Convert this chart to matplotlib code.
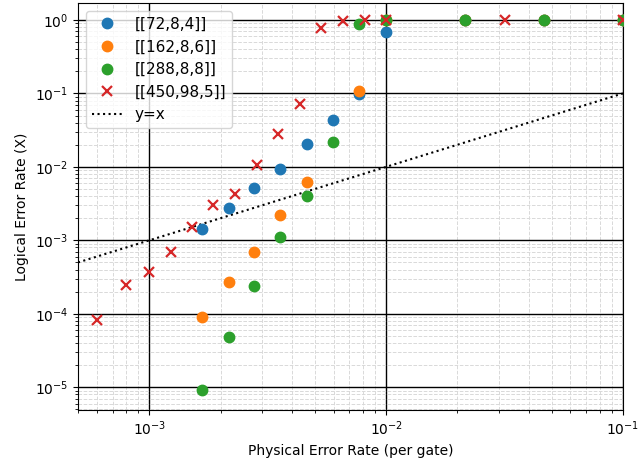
import numpy as np
import matplotlib
matplotlib.use("Agg")
import matplotlib.pyplot as plt

labels = ["[[72,8,4]]", "[[162,8,6]]", "[[288,8,8]]", "[[450,98,5]]"]

x_72 = [1.67e-3, 2.16e-3, 2.77e-3, 3.58e-3, 4.62e-3, 5.96e-3, 7.7e-3, 1e-2, 2.15e-2, 4.64e-2, 1e-1]
y_72 = [1.42e-3, 2.76e-3, 5.21e-3, 9.46e-3, 2.05e-2, 4.31e-2, 9.75e-2, 0.68, 1.0, 1.0, 1.0]

x_162 = [1.67e-3, 2.16e-3, 2.77e-3, 3.58e-3, 4.62e-3, 7.7e-3, 1e-2, 2.15e-2, 4.64e-2, 1e-1]
y_162 = [9.05e-5, 2.74e-4, 6.88e-4, 2.24e-3, 6.29e-3, 0.109, 1.0, 1.0, 1.0, 1.0]

x_288 = [1.67e-3, 2.16e-3, 2.77e-3, 3.58e-3, 4.62e-3, 5.96e-3, 7.7e-3, 1e-2, 2.15e-2, 4.64e-2, 1e-1]
y_288 = [9.27e-6, 4.89e-5, 2.39e-4, 1.12e-3, 4.02e-3, 2.16e-2, 0.88, 1.0, 1.0, 1.0, 1.0]

x_450 = [6.0e-4, 8.0e-4, 1.0e-3, 1.23e-3, 1.51e-3, 1.85e-3, 2.3e-3, 2.85e-3, 3.49e-3,
         4.33e-3, 5.32e-3, 6.57e-3, 8.13e-3, 1e-2, 3.16e-2, 1e-1]
y_450 = [8.24e-5, 2.47e-4, 3.68e-4, 6.88e-4, 1.54e-3, 3.03e-3, 4.28e-3, 1.06e-2, 2.81e-2,
         7.12e-2, 0.786, 0.97, 1.0, 1.0, 1.0, 1.0]

line_x = [5e-4, 1e-1]

fig = plt.figure(figsize=(6.39, 4.66), dpi=100)
ax = fig.add_axes([78/639, 1 - 410/466, (623 - 78)/639, (410 - 3)/466])

ax.plot(x_72, y_72, 'o', color='tab:blue', markersize=7.5, label=labels[0], zorder=3)
ax.plot(x_162, y_162, 'o', color='tab:orange', markersize=7.5, label=labels[1], zorder=3)
ax.plot(x_288, y_288, 'o', color='tab:green', markersize=7.5, label=labels[2], zorder=3)
ax.plot(x_450, y_450, 'x', color='tab:red', markersize=7.5, markeredgewidth=1.6, label=labels[3], zorder=3)
ax.plot(line_x, line_x, ':', color='black', linewidth=1.5, label='y=x', zorder=2)

ax.set_xscale('log')
ax.set_yscale('log')
ax.set_xlim(5e-4, 1e-1)
ax.set_ylim(4.9e-6, 1.7)

ax.grid(True, which='major', color='black', linewidth=1.0)
ax.grid(True, which='minor', color='#d9d9d9', linestyle='--', linewidth=0.7)
ax.set_axisbelow(True)

ax.set_xlabel('Physical Error Rate (per gate)')
ax.set_ylabel('Logical Error Rate (X)')
ax.legend(loc='upper left', fontsize=11)

fig.savefig('out.png', dpi=100)
